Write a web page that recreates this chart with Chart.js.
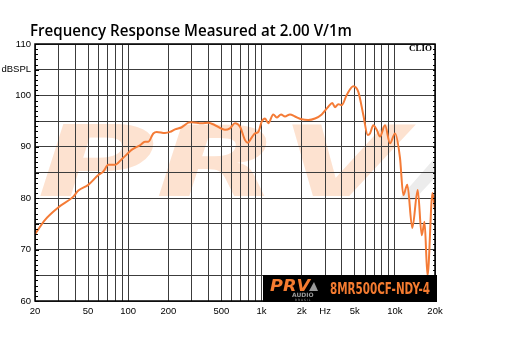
<!DOCTYPE html>
<html><head><meta charset="utf-8">
<script src="https://cdn.jsdelivr.net/npm/chart.js@4.4.1/dist/chart.umd.min.js"></script>
<style>html,body{margin:0;padding:0;background:#fff;}#wrap{width:507px;height:342px;position:relative}</style>
</head><body><div id="wrap"><canvas id="c" width="507" height="342"></canvas></div>
<script>
const chartTitle = 'Frequency Response Measured at 2.00 V/1m';
const modelName = '8MR500CF-NDY-4';
const brandName = 'PRV';
const frequencies = [20, 23.8, 29.9, 38.8, 42.3, 50.2, 59.7, 65.1, 70.9, 79.6, 89.4, 97.5, 106, 122.6, 133.6, 141.5, 154.3, 163.6, 188.8, 205.9, 224.4, 252, 282.4, 299, 356, 399, 448, 532, 580, 632, 690, 752, 788, 844, 893, 946, 1003, 1062, 1124, 1225, 1300, 1400, 1500, 1635, 1783, 2001, 2243, 2518, 2828, 3168, 3395, 3557, 3766, 3994, 4355, 4880, 5320, 5800, 6258, 6510, 6893, 7310, 7738, 8434, 9194, 10024, 10930, 11570, 12400, 13510, 14840, 15900, 16690, 17570, 19160, 20000];
const splValues = [73.0, 75.8, 78.2, 80.3, 81.5, 82.6, 84.5, 85.2, 86.5, 86.5, 87.6, 88.5, 89.4, 90.3, 91.0, 91.0, 92.6, 92.9, 92.7, 92.9, 93.4, 93.8, 94.7, 94.8, 94.6, 94.7, 94.2, 93.3, 93.6, 94.6, 93.9, 91.3, 90.8, 91.8, 92.6, 92.9, 94.9, 95.5, 94.6, 96.3, 95.7, 96.3, 95.9, 96.3, 95.9, 95.35, 95.2, 95.5, 96.3, 97.8, 98.5, 97.7, 98.3, 98.1, 100.1, 101.8, 100.7, 96.2, 92.3, 92.6, 94.2, 93.3, 92.0, 94.2, 90.7, 92.6, 87.8, 80.6, 82.6, 74.2, 81.6, 72.8, 75.4, 64.9, 81.0, 77.7];
const gridFrequencies = [20,30,40,50,60,70,80,90,100,200,300,400,500,600,700,800,900,1000,2000,3000,4000,5000,6000,7000,8000,9000,10000,20000];
const labelFrequencies = [20,50,100,200,500,1000,2000,3000,5000,10000,20000];
const labelTexts = ['20','50','100','200','500','1k','2k','Hz','5k','10k','20k'];
const yGridValues = [60,65,70,75,80,85,90,95,100,105,110];
const yLabelValues = [60,70,80,90,100,105,110];
const yLabelTexts = ['60','70','80','90','100','dBSPL','110'];

const decor = {
  id: 'decor',
  beforeDraw(chart) {
    const {ctx, chartArea: a} = chart;
    ctx.save();
    ctx.beginPath(); ctx.rect(a.left, a.top, a.right - a.left, a.bottom - a.top); ctx.clip();
    ctx.fillStyle = '#fde2d0';
    ctx.font = 'italic bold 98px "DejaVu Sans"';
    const w = ctx.measureText(brandName).width;
    ctx.save();
    ctx.translate(a.left + 2, 196);
    ctx.scale(368 / w, 1);
    ctx.fillText(brandName, 0, 0);
    ctx.restore();
    ctx.fillStyle = '#ececec';
    ctx.beginPath();
    ctx.moveTo(398, 200); ctx.lineTo(414, 200); ctx.lineTo(440, 172); ctx.lineTo(440, 152);
    ctx.closePath(); ctx.fill();
    ctx.restore();
  },
  afterDatasetsDraw(chart) {
    const {ctx, chartArea: a, scales: {y}} = chart;
    ctx.save();
    ctx.strokeStyle = '#000'; ctx.lineWidth = 1.5;
    ctx.strokeRect(a.left, a.top, a.right - a.left, a.bottom - a.top);
    ctx.lineWidth = 1;
    for (let v = 60; v <= 110; v++) {
      const py = Math.round(y.getPixelForValue(v)) + 0.5;
      const len = v % 5 === 0 ? 4 : 3;
      ctx.beginPath();
      ctx.moveTo(a.left, py); ctx.lineTo(a.left + len, py);
      ctx.moveTo(a.right, py); ctx.lineTo(a.right - 2, py);
      ctx.stroke();
    }
    ctx.fillStyle = '#000';
    ctx.fillRect(263, 275, 174, 27);
    ctx.fillStyle = '#f47b30';
    ctx.font = 'italic bold 15px "DejaVu Sans"';
    ctx.textBaseline = 'alphabetic';
    let bw = ctx.measureText(brandName).width;
    ctx.save(); ctx.translate(270, 291); ctx.scale(40 / bw, 1); ctx.fillText(brandName, 0, 0); ctx.restore();
    ctx.fillStyle = '#9a9a9a';
    ctx.beginPath(); ctx.moveTo(309, 291); ctx.lineTo(314, 282); ctx.lineTo(318, 291); ctx.closePath(); ctx.fill();
    ctx.font = 'bold 6px "DejaVu Sans"';
    ctx.fillText('AUDIO', 292, 297);
    ctx.font = '3px "DejaVu Sans"';
    ctx.fillText('B R A S I L', 295, 300.5);
    ctx.fillStyle = '#f47b30';
    ctx.font = 'bold 15px "DejaVu Sans"';
    const mw = ctx.measureText(modelName).width;
    ctx.save(); ctx.translate(330, 293.5); ctx.scale(100 / mw, 1); ctx.fillText(modelName, 0, 0); ctx.restore();
    ctx.restore();
  },
  afterDraw(chart) {
    const {ctx, chartArea: a} = chart;
    ctx.save();
    ctx.fillStyle = '#000';
    ctx.textBaseline = 'alphabetic';
    ctx.font = '600 16px "Open Sans"';
    const tw = ctx.measureText(chartTitle).width;
    ctx.save(); ctx.translate(30, 36); ctx.scale(322 / tw, 1); ctx.fillText(chartTitle, 0, 0); ctx.restore();
    ctx.font = 'bold 9px "Liberation Serif"';
    ctx.textAlign = 'right';
    ctx.fillText('CLIO', a.right - 3, a.top + 7);
    ctx.restore();
  }
};

new Chart(document.getElementById('c'), {
  type: 'line',
  data: {
    datasets: [{
      data: frequencies.map((f, i) => ({x: f, y: splValues[i]})),
      borderColor: '#f47b36',
      borderWidth: 2,
      pointRadius: 0,
      fill: false,
      cubicInterpolationMode: 'monotone'
    }]
  },
  options: {
    responsive: false,
    animation: false,
    layout: {padding: {top: 44, right: 72, left: 0, bottom: 0}},
    plugins: {legend: {display: false}, tooltip: {enabled: false}, title: {display: false}},
    scales: {
      x: {
        type: 'logarithmic', min: 20, max: 20000,
        afterBuildTicks(s) { s.ticks = gridFrequencies.map(v => ({value: v})); },
        afterFit(s) { s.height = 41; },
        grid: {color: '#3c3c3c', lineWidth: 1, drawTicks: false},
        border: {display: false},
        ticks: {
          autoSkip: false, maxRotation: 0, minRotation: 0, padding: 5,
          font: {family: 'Liberation Sans', size: 9.5}, color: '#000',
          callback: (v) => { const i = labelFrequencies.indexOf(Number(v)); return i >= 0 ? labelTexts[i] : ''; }
        }
      },
      y: {
        min: 60, max: 110,
        afterBuildTicks(s) { s.ticks = yGridValues.map(v => ({value: v})); },
        afterFit(s) { s.width = 35; },
        grid: {color: '#3c3c3c', lineWidth: 1, drawTicks: false},
        border: {display: false},
        ticks: {
          padding: 4, font: {family: 'Liberation Sans', size: 9.5}, color: '#000',
          callback: (v) => { const i = yLabelValues.indexOf(Number(v)); return i >= 0 ? yLabelTexts[i] : ''; }
        }
      }
    }
  },
  plugins: [decor]
});
</script></body></html>
